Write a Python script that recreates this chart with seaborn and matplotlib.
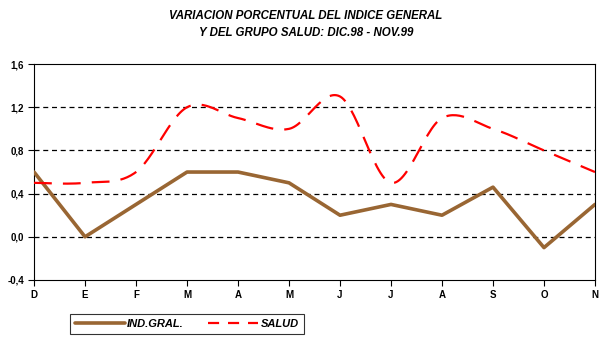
import numpy as np
import pandas as pd
import matplotlib
matplotlib.use("Agg")
import matplotlib.pyplot as plt
import seaborn as sns
from matplotlib.lines import Line2D

months = ["D", "E", "F", "M", "A", "M", "J", "J", "A", "S", "O", "N"]
ind_gral = [0.6, 0.0, 0.3, 0.6, 0.6, 0.5, 0.2, 0.3, 0.2, 0.46, -0.1, 0.3]
salud = [0.5, 0.5, 0.6, 1.2, 1.1, 1.0, 1.3, 0.5, 1.1, 1.0, 0.8, 0.6]
yticks = [-0.4, 0.0, 0.4, 0.8, 1.2, 1.6]

sns.set_style("white")
plt.rcParams['font.family'] = ['Liberation Sans', 'DejaVu Sans']
plt.rcParams['text.color'] = 'black'
plt.rcParams['xtick.color'] = 'black'
plt.rcParams['ytick.color'] = 'black'

df = pd.DataFrame({"x": np.arange(len(months)), "ind": ind_gral, "salud": salud})


def smooth(xs, ys, n=30):
    # excel-like smoothed line (catmull-rom bezier)
    xs = np.asarray(xs, float)
    ys = np.asarray(ys, float)
    px = np.concatenate([[xs[0]], xs, [xs[-1]]])
    py = np.concatenate([[ys[0]], ys, [ys[-1]]])
    ox, oy = [], []
    t = np.linspace(0, 1, n)
    for i in range(1, len(px) - 2):
        p0 = np.array([px[i], py[i]])
        p3 = np.array([px[i + 1], py[i + 1]])
        p1 = p0 + (np.array([px[i + 1], py[i + 1]]) - np.array([px[i - 1], py[i - 1]])) / 6
        p2 = p3 - (np.array([px[i + 2], py[i + 2]]) - np.array([px[i], py[i]])) / 6
        for tt in t[:-1] if i < len(px) - 3 else t:
            b = ((1 - tt) ** 3) * p0 + 3 * ((1 - tt) ** 2) * tt * p1 + 3 * (1 - tt) * tt ** 2 * p2 + tt ** 3 * p3
            ox.append(b[0])
            oy.append(b[1])
    return np.array(ox), np.array(oy)


fig = plt.figure(figsize=(6.12, 3.56), dpi=100)
ax = fig.add_axes([0.0556, 0.2135, 0.9166, 0.6065])

for v in [0.0, 0.4, 0.8, 1.2]:
    ax.axhline(v, color="black", lw=0.9, ls=(0, (4, 3)), zorder=1)

brown = "#996633"
sns.lineplot(data=df, x="x", y="ind", color=brown, lw=2.6, ax=ax, zorder=3)
sx, sy = smooth(df["x"], df["salud"])
ax.plot(sx, sy, color="red", lw=1.6, ls=(0, (8, 5)), zorder=3)

ax.set_xlim(0, len(months) - 1)
ax.set_ylim(-0.4, 1.6)
ax.set_yticks(yticks)
ax.set_yticklabels([f"{v:.1f}".replace(".", ",") for v in yticks],
                   fontsize=7, fontweight="bold")
ax.set_xticks(range(len(months)))
ax.set_xticklabels(months, fontsize=7, fontweight="bold")
ax.tick_params(axis="both", direction="out", length=4, width=0.8, color="black",
               bottom=True, left=True, pad=3)
ax.set_xlabel("")
ax.set_ylabel("")
for s in ax.spines.values():
    s.set_color("black")
    s.set_linewidth(0.8)

fig.text(0.5, 0.955, "VARIACION PORCENTUAL DEL INDICE GENERAL", ha="center", va="center",
         fontsize=8.3, fontweight="bold", style="italic")
fig.text(0.5, 0.907, "Y DEL GRUPO SALUD: DIC.98 - NOV.99", ha="center", va="center",
         fontsize=8.3, fontweight="bold", style="italic")

handles = [Line2D([], [], color=brown, lw=2.6),
           Line2D([], [], color="red", lw=1.6, ls=(0, (5, 4)))]
leg = fig.legend(handles, ["IND.GRAL.", "SALUD"], loc="center", ncol=2,
                 bbox_to_anchor=(0.305, 0.09), frameon=True, fancybox=False,
                 handlelength=4.5, handletextpad=0.2, columnspacing=2.2,
                 prop={"size": 8, "weight": "bold", "style": "italic"},
                 borderpad=0.45, borderaxespad=0)
leg.get_frame().set_edgecolor("black")
leg.get_frame().set_linewidth(0.8)

fig.savefig("out.png", dpi=100)
